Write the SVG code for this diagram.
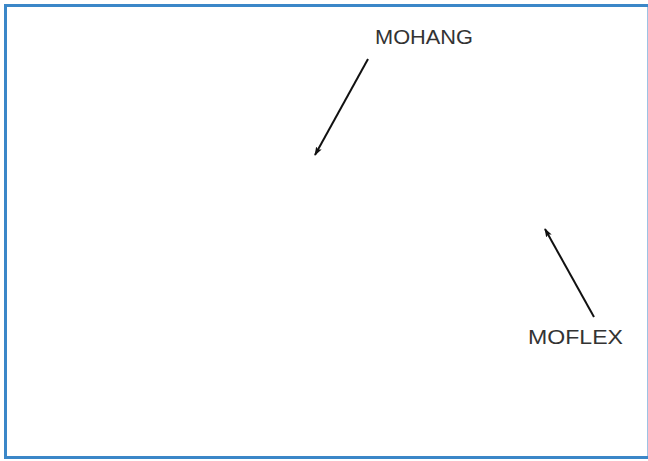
<svg xmlns="http://www.w3.org/2000/svg" width="648" height="461" viewBox="0 0 648 461">
  <style>
    .frame { fill: #ffffff; stroke: #3b87c8; stroke-width: 3; }
    .label { font-family: "Liberation Sans", "DejaVu Sans", sans-serif; font-size: 20px; fill: #333333; }
    .lead { stroke: #111111; stroke-width: 2; fill: none; marker-end: url(#tip); }
  </style>
  <defs>
    <marker id="tip" viewBox="0 0 10 10" refX="9" refY="5" markerWidth="4.5" markerHeight="4.5" orient="auto" markerUnits="strokeWidth">
      <path d="M0,1.5 L10,5 L0,8.5 L2,5 Z" fill="#111111"/>
    </marker>
  </defs>
  <!-- outer frame; right edge sits mostly past the canvas -->
  <rect class="frame" x="5.5" y="5.5" width="643.5" height="452"/>
  <g id="connectors">
    <line class="lead" x1="368" y1="59" x2="315" y2="155"/>
    <line class="lead" x1="594" y1="317" x2="545" y2="229"/>
  </g>
  <g id="mohang">
    <text class="label" x="375" y="43.5" textLength="98" lengthAdjust="spacingAndGlyphs">MOHANG</text>
  </g>
  <g id="moflex">
    <text class="label" x="528" y="344" textLength="95" lengthAdjust="spacingAndGlyphs">MOFLEX</text>
  </g>
</svg>
